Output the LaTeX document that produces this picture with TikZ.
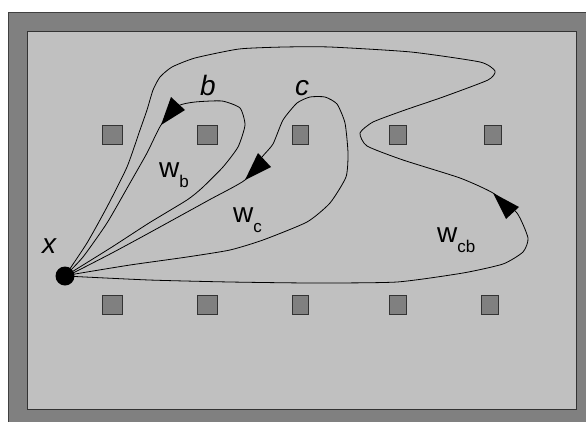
\documentclass[tikz,border=0pt]{standalone}
\usepackage{fontspec}
\setmainfont{Liberation Sans}
\definecolor{framegray}{HTML}{808080}
\definecolor{floorgray}{HTML}{C0C0C0}
\definecolor{postgray}{HTML}{808080}
\newcommand{\wsub}[1]{\raisebox{-10pt}{\fontsize{17}{17}\selectfont #1}}
\tikzset{
  post/.style={draw=black!80, fill=postgray, line width=0.8pt, inner sep=0pt, minimum height=19pt},
  lbl/.style={anchor=base west, inner sep=0pt, font=\fontsize{28}{30}\selectfont},
  walk/.style={line width=0.8pt, smooth, tension=0.35},
}
\begin{document}
\begin{tikzpicture}[x=1pt,y=-1pt]
\useasboundingbox (0,0) rectangle (586,421);
% room
\draw[black!75,fill=framegray,line width=1pt] (8.5,12.5) rectangle (588,423);
\draw[black!80,fill=floorgray,line width=1pt] (27.5,31.5) rectangle (576,409);
% obstacles, two rows
\node[post,minimum width=20pt] (p1) at (112,134.5) {};
\node[post,minimum width=20pt] (p2) at (207,134.5) {};
\node[post,minimum width=16pt] (p3) at (300,134.5) {};
\node[post,minimum width=17pt] (p4) at (397.5,134.5) {};
\node[post,minimum width=17pt] (p5) at (492.5,134.5) {};
\node[post,minimum width=20pt] (q1) at (112,305) {};
\node[post,minimum width=20pt] (q2) at (207,305) {};
\node[post,minimum width=16pt] (q3) at (300,305) {};
\node[post,minimum width=17pt] (q4) at (397.5,305) {};
\node[post,minimum width=17pt] (q5) at (489.5,305) {};
% base point
\node[circle,fill=black,inner sep=0pt,minimum size=19pt] (x) at (65,276) {};
% loop w_cb
\draw[walk] plot coordinates {(65,276) (87,243) (107,207) (127,167) (140,130) (147,110)
  (153,90) (160,77) (172,67) (195,58) (239,49) (284,47) (330,47) (411,52) (480,62)
  (495,71) (488,80) (443,97) (405,110) (373,122) (360,133) (367,146) (403,160) (460,178)
  (493,193) (517,213) (528,238) (523,252) (503,264) (463,273) (397,282) (313,283)
  (230,282) (149,280) (65,276)};
% loop w_b
\draw[walk] plot coordinates {(65,276) (83,257) (107,223) (130,183) (147,153) (161,125)
  (178,106) (195,102) (222,101) (240,108) (245,125) (238,147) (223,167) (202,188)
  (187,200) (149,223) (112,247) (75,270) (65,276)};
% loop w_c
\draw[walk] plot coordinates {(65,276) (75,272) (112,253) (149,233) (209,200) (245,180)
  (262,157) (273,144) (283,120) (297,103) (310,97) (325,97) (337,104) (345,123)
  (348,153) (346,177) (330,203) (307,222) (263,240) (230,250) (187,257)
  (130,265) (75,274) (65,276)};
% direction marks
\fill (161,125) -- (171,97) -- (185,110) -- cycle;
\fill (245,180) -- (258,153) -- (271,167) -- cycle;
\fill (493,193) -- (519,207) -- (506,219) -- cycle;
% labels
\node[lbl] (lx) at (42,253) {\itshape x};
\node[lbl] (lb) at (200,95) {\itshape b};
\node[lbl] (lc) at (295,95) {\itshape c};
\node[lbl] (lwb) at (159,177) {w\wsub{b}};
\node[lbl] (lwc) at (233,222) {w\wsub{c}};
\node[lbl] (lwcb) at (437,242) {w\wsub{cb}};
\end{tikzpicture}
\end{document}
